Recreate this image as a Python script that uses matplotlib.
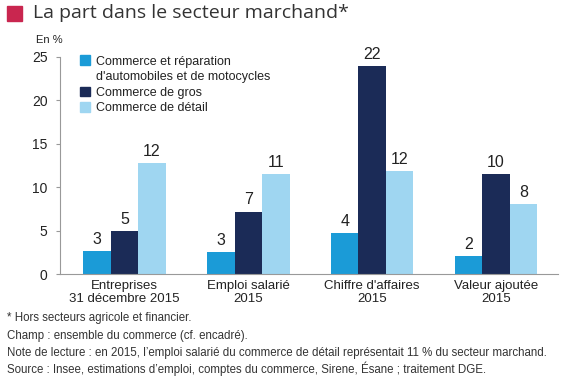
import matplotlib
matplotlib.use("Agg")
import matplotlib.pyplot as plt
from matplotlib.patches import Patch, Rectangle
import numpy as np

categories = ["Entreprises\n31 décembre 2015", "Emploi salarié\n2015",
              "Chiffre d'affaires\n2015", "Valeur ajoutée\n2015"]
series_names = ["Commerce et réparation\nd'automobiles et de motocycles",
                "Commerce de gros", "Commerce de détail"]
auto_vals = [2.6, 2.5, 4.7, 2.1]
gros_vals = [4.9, 7.2, 24.0, 11.5]
detail_vals = [12.8, 11.5, 11.9, 8.1]
auto_labels = ["3", "3", "4", "2"]
gros_labels = ["5", "7", "22", "10"]
detail_labels = ["12", "11", "12", "8"]
yticks = [0, 5, 10, 15, 20, 25]

colors = ["#1b9bd7", "#1b2b57", "#9fd6f1"]
text_col = "#222222"
plt.rcParams['font.family'] = ['Liberation Sans', 'DejaVu Sans']

fig = plt.figure(figsize=(5.63, 3.82), dpi=100)
ax = fig.add_axes([0.1066, 0.2827, 0.8844, 0.5681])

x = np.arange(len(categories))
w = 0.222
series = [auto_vals, gros_vals, detail_vals]
labels = [auto_labels, gros_labels, detail_labels]
for i, (vals, labs) in enumerate(zip(series, labels)):
    xs = x + (i - 1) * w
    ax.bar(xs, vals, width=w, color=colors[i], linewidth=0)
    for xi, v, lb in zip(xs, vals, labs):
        ax.annotate(lb, (xi, v), xytext=(0, 3), textcoords="offset points",
                    ha="center", va="bottom", fontsize=11.5, color=text_col)

ax.set_xlim(-0.52, 3.5)
ax.set_ylim(0, 25)
ax.set_yticks(yticks)
ax.set_yticklabels([str(t) for t in yticks], fontsize=10, color=text_col)
ax.set_xticks(x)
ax.set_xticklabels(categories, fontsize=9.5, color=text_col, linespacing=1.15)
ax.tick_params(axis="x", length=0, pad=4)
ax.tick_params(axis="y", length=3, width=0.8, color="#999999", pad=6)
for s in ["top", "right"]:
    ax.spines[s].set_visible(False)
for s in ["left", "bottom"]:
    ax.spines[s].set_color("#999999")
    ax.spines[s].set_linewidth(0.8)

handles = [Patch(color=colors[0]), Patch(color="none"),
           Patch(color=colors[1]), Patch(color=colors[2])]
leg_labels = ["Commerce et réparation", "d'automobiles et de motocycles",
              "Commerce de gros", "Commerce de détail"]
ax.legend(handles, leg_labels, loc="upper left", bbox_to_anchor=(0.03, 1.03),
          frameon=False, fontsize=9, handlelength=0.8, handleheight=0.8,
          handletextpad=0.5, labelspacing=0.28, borderaxespad=0,
          labelcolor=text_col)

# Title
fig.patches.append(Rectangle((7 / 563, 1 - 21 / 382), 15 / 563, 15 / 382,
                             transform=fig.transFigure, color="#c9264f"))
fig.text(33 / 563, 1 - 13 / 382, "La part dans le secteur marchand*",
         fontsize=14, color="#333333", va="center", ha="left",
         family=['Open Sans', 'DejaVu Sans'])
fig.text(36 / 563, 1 - 40 / 382, "En %", fontsize=8, color=text_col,
         va="center", ha="left")

notes = ["* Hors secteurs agricole et financier.",
         "Champ : ensemble du commerce (cf. encadré).",
         "Note de lecture : en 2015, l\u2019emploi salarié du commerce de détail représentait 11 % du secteur marchand.",
         "Source : Insee, estimations d\u2019emploi, comptes du commerce, Sirene, Ésane ; traitement DGE."]
ys = [318, 336, 353, 369]
for t, yy in zip(notes, ys):
    fig.text(7 / 563, 1 - yy / 382, t, fontsize=8.3, color="#333333",
             va="center", ha="left", family=['Liberation Sans', 'DejaVu Sans'])

fig.savefig("out.png", dpi=100)
